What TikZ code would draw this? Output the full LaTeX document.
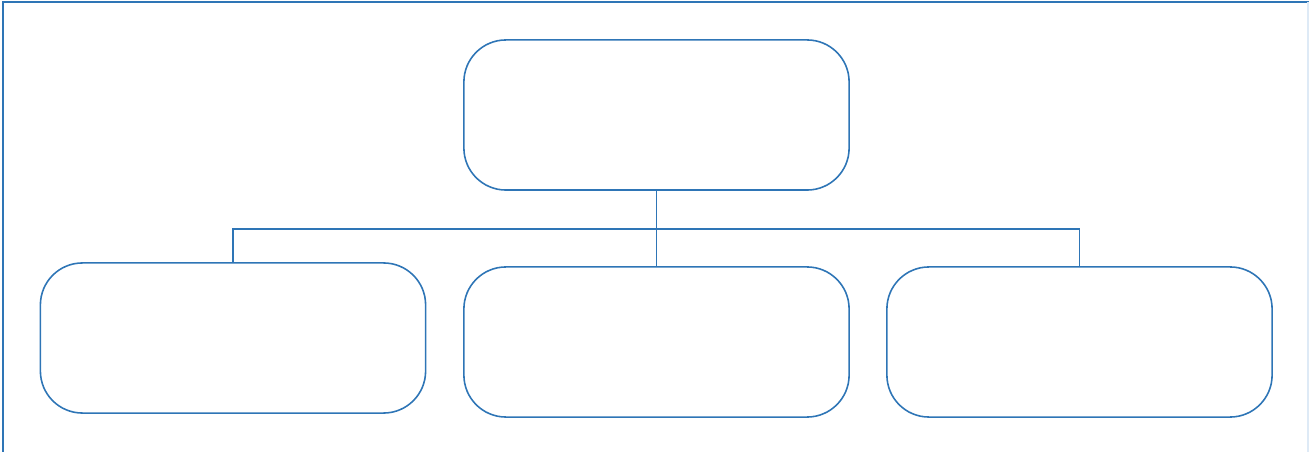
\documentclass[tikz,border=0pt]{standalone}
\usetikzlibrary{positioning}
\definecolor{frameB}{RGB}{46,117,182}
\definecolor{frameL}{RGB}{222,234,246}
\tikzset{
  box/.style={draw=frameB, line width=0.45pt, rounded corners=0.42cm,
    minimum width=3.85cm, minimum height=1.5cm, inner sep=0pt},
  link/.style={draw=frameB, line width=0.4pt},
}
\begin{document}
\begin{tikzpicture}[x=0.01cm, y=-0.01cm]
  \useasboundingbox (0,0) rectangle (1309,452);
  % outer frame
  \draw[frameB, line width=0.45pt] (3,452) -- (3,2) -- (1309,2);
  \draw[frameL, line width=0.4pt] (1308,2) -- (1308,452);
  % boxes
  \node[box] (top) at (656.5,115) {};
  \node[box] (left) at (233,338) {};
  \node[box] (mid) at (656.5,342) {};
  \node[box] (right) at (1079.5,342) {};
  % connectors
  \coordinate (bus) at (656.5,229);
  \draw[link] (top.south) -- (mid.north);
  \draw[link] (left.north) |- (bus) -| (right.north);
\end{tikzpicture}
\end{document}
